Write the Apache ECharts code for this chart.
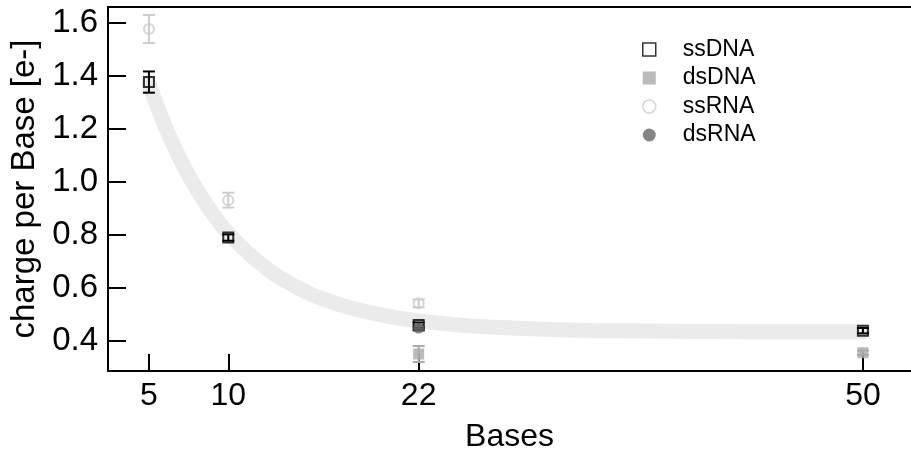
<!DOCTYPE html>
<html>
<head>
<meta charset="utf-8">
<script src="https://cdn.jsdelivr.net/npm/echarts@6/dist/echarts.min.js"></script>
<style>html,body{margin:0;padding:0;background:#fff}#c{width:911px;height:449px}</style>
</head>
<body>
<div id="c"></div>
<script>
// Bases (x positions) and tick labels
const xTicks = [5, 10, 22, 50];
const yTicks = [0.4, 0.6, 0.8, 1.0, 1.2, 1.4, 1.6];

// ssDNA: bases, value, error
const ssDNA_x = [5, 10, 22, 50];
const ssDNA_y = [1.376, 0.790, 0.460, 0.439];
const ssDNA_e = [0.040, 0.012, 0.010, 0.010];

// dsDNA
const dsDNA_x = [22, 50];
const dsDNA_y = [0.351, 0.356];
const dsDNA_e = [0.030, 0.008];

// ssRNA
const ssRNA_x = [5, 10, 22];
const ssRNA_y = [1.576, 0.931, 0.542];
const ssRNA_e = [0.053, 0.028, 0.015];

// dsRNA
const dsRNA_x = [22];
const dsRNA_y = [0.449];
const dsRNA_e = [0.010];

// fitted curve
const fit_x = [5, 6, 7, 8, 9, 10, 12, 14, 16, 18, 20, 22, 25, 28, 32, 36, 40, 45, 50];
const fit_y = [1.370, 1.213, 1.082, 0.973, 0.883, 0.807, 0.693, 0.614, 0.558, 0.521, 0.494, 0.476, 0.458, 0.449, 0.441, 0.438, 0.436, 0.435, 0.435];

const FONT = 'Liberation Sans, Arial, sans-serif';

function pts(xs, ys) { return xs.map((x, i) => [x, ys[i]]); }
function errs(xs, ys, es) { return xs.map((x, i) => [x, ys[i], es[i]]); }

function errSeries(name, xs, ys, es, color) {
  return {
    type: 'custom',
    name: name + '_err',
    data: errs(xs, ys, es),
    silent: true,
    renderItem: function (params, api) {
      const x = api.value(0), y = api.value(1), e = api.value(2);
      const hi = api.coord([x, y + e]);
      const lo = api.coord([x, y - e]);
      const w = 6;
      const style = { stroke: color, lineWidth: 2 };
      return {
        type: 'group',
        children: [
          { type: 'line', shape: { x1: hi[0], y1: hi[1], x2: lo[0], y2: lo[1] }, style: style },
          { type: 'line', shape: { x1: hi[0] - w, y1: hi[1], x2: hi[0] + w, y2: hi[1] }, style: style },
          { type: 'line', shape: { x1: lo[0] - w, y1: lo[1], x2: lo[0] + w, y2: lo[1] }, style: style }
        ]
      };
    }
  };
}

const chart = echarts.init(document.getElementById('c'), null, { renderer: 'canvas' });
chart.setOption({
  animation: false,
  backgroundColor: '#ffffff',
  textStyle: { fontFamily: FONT },
  grid: { left: 108, right: 0, top: 7, bottom: 78, containLabel: false, outerBoundsMode: 'none' },
  legend: {
    orient: 'vertical',
    left: 637,
    top: 33,
    itemWidth: 13,
    itemHeight: 13,
    itemGap: 5.5,
    textStyle: { fontFamily: FONT, fontSize: 23, color: '#000', padding: [0, 0, 0, 22] },
    data: [
      { name: 'ssDNA', icon: 'rect', itemStyle: { color: '#fff', borderColor: '#000', borderWidth: 1.5 } },
      { name: 'dsDNA', icon: 'rect', itemStyle: { color: '#aaaaaa', borderWidth: 0 } },
      { name: 'ssRNA', icon: 'circle', itemStyle: { color: '#fff', borderColor: '#cccccc', borderWidth: 1.5 } },
      { name: 'dsRNA', icon: 'circle', itemStyle: { color: '#666666', borderWidth: 0 } }
    ]
  },
  xAxis: [{
    type: 'value',
    min: 2.42,
    max: 53.03,
    name: 'Bases',
    nameLocation: 'middle',
    nameGap: 50,
    nameTextStyle: { fontFamily: FONT, fontSize: 32, color: '#000' },
    axisLine: { show: true, lineStyle: { color: '#000', width: 2 } },
    axisTick: { show: true, inside: true, length: 17, customValues: xTicks, lineStyle: { color: '#000', width: 2 } },
    axisLabel: { customValues: xTicks, fontFamily: FONT, fontSize: 32, color: '#000', margin: 9 },
    splitLine: { show: false }
  }, {
    type: 'value',
    position: 'top',
    min: 2.42,
    max: 53.03,
    axisLine: { show: true, lineStyle: { color: '#000', width: 2 } },
    axisTick: { show: false },
    axisLabel: { show: false },
    splitLine: { show: false }
  }],
  yAxis: {
    type: 'value',
    min: 0.287,
    max: 1.659,
    name: 'charge per Base [e-]',
    nameLocation: 'middle',
    nameGap: 67,
    nameTextStyle: { fontFamily: FONT, fontSize: 33, color: '#000' },
    axisLine: { show: true, lineStyle: { color: '#000', width: 2 } },
    axisTick: { show: true, inside: true, length: 18, customValues: yTicks, lineStyle: { color: '#000', width: 2 } },
    axisLabel: { customValues: yTicks, formatter: v => v.toFixed(1), fontFamily: FONT, fontSize: 33, color: '#000', margin: 10 },
    splitLine: { show: false }
  },
  series: [
    {
      type: 'line',
      name: 'fit',
      data: pts(fit_x, fit_y),
      smooth: true,
      symbol: 'none',
      silent: true,
      z: 1,
      lineStyle: { color: '#ebebeb', width: 15, cap: 'round', join: 'round' }
    },
    errSeries('ssDNA', ssDNA_x, ssDNA_y, ssDNA_e, '#000'),
    {
      type: 'scatter', name: 'ssDNA', data: pts(ssDNA_x, ssDNA_y), symbol: 'rect', symbolSize: 10,
      itemStyle: { color: 'rgba(0,0,0,0)', borderColor: '#000', borderWidth: 2 }
    },
    errSeries('dsDNA', dsDNA_x, dsDNA_y, dsDNA_e, '#aaaaaa'),
    {
      type: 'scatter', name: 'dsDNA', data: pts(dsDNA_x, dsDNA_y), symbol: 'rect', symbolSize: 11,
      itemStyle: { color: '#aaaaaa' }
    },
    errSeries('ssRNA', ssRNA_x, ssRNA_y, ssRNA_e, '#cccccc'),
    {
      type: 'scatter', name: 'ssRNA', data: pts(ssRNA_x, ssRNA_y), symbol: 'circle', symbolSize: 10,
      itemStyle: { color: 'rgba(0,0,0,0)', borderColor: '#cccccc', borderWidth: 2 }
    },
    errSeries('dsRNA', dsRNA_x, dsRNA_y, dsRNA_e, '#666666'),
    {
      type: 'scatter', name: 'dsRNA', data: pts(dsRNA_x, dsRNA_y), symbol: 'circle', symbolSize: 11,
      itemStyle: { color: '#666666' }
    }
  ]
});
</script>
</body>
</html>
